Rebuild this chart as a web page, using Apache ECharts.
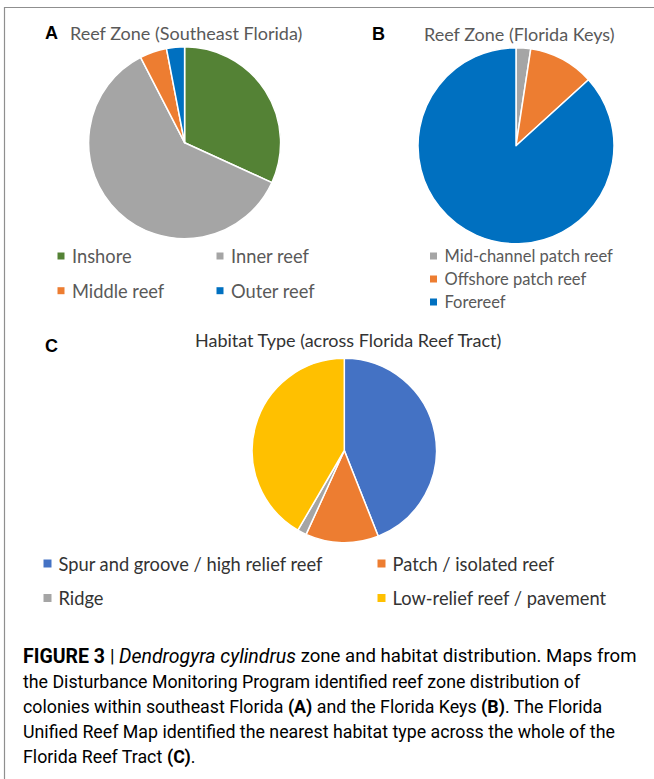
<!DOCTYPE html>
<html>
<head>
<meta charset="utf-8">
<title>Figure 3</title>
<script src="https://cdn.jsdelivr.net/npm/echarts@6/dist/echarts.min.js"></script>
<style>
  html, body {
    margin: 0;
    padding: 0;
    background: #fff;
  }
  #main {
    width: 654px;
    height: 779px;
  }
</style>
</head>
<body>
<div id="main"></div>
<script>
// A southeast Florida reef zone
const zoneSeNames = ['Inshore', 'Inner reef', 'Middle reef', 'Outer reef']
const zoneSeValues = [21, 40, 3, 2]
const zoneSeColors = ['#548235', '#a5a5a5', '#ed7d31', '#0070c0']

// B Florida Keys reef zone
const zoneKeysNames = ['Mid-channel patch reef', 'Offshore patch reef', 'Forereef']
const zoneKeysValues = [2, 9, 72]
const zoneKeysColors = ['#a5a5a5', '#ed7d31', '#0070c0']

// C habitat type (%)
const habitatNames = ['Spur and groove / high relief reef', 'Patch / isolated reef', 'Ridge', 'Low-relief reef / pavement']
const habitatValues = [44, 12.8, 1.6, 41.6]
const habitatColors = ['#4472c4', '#ed7d31', '#a5a5a5', '#ffc000']

const chartFont = 'Lato, "Noto Sans", sans-serif'
const capFont = 'Roboto, "Liberation Sans", sans-serif'

function toData(names, values, colors) {
  return names.map((name, i) => ({
    name: name,
    value: values[i],
    itemStyle: { color: colors[i] }
  }))
}

function pie(center, radius, data) {
  return {
    type: 'pie',
    center: center,
    radius: radius,
    startAngle: 90,
    clockwise: true,
    label: { show: false },
    labelLine: { show: false },
    emphasis: { disabled: true },
    itemStyle: { borderColor: '#fff', borderWidth: 1.5 },
    data: data
  }
}

// square marker centered in a wider box, so the text sits a bit further away
function legend(left, top, names, gap, size, fontSize, color) {
  return {
    orient: 'vertical',
    left: left,
    top: top,
    padding: 0,
    itemGap: gap,
    itemWidth: 12,
    itemHeight: size,
    icon: 'path://M0,0L10,0L10,10L0,10Z',
    itemStyle: { borderWidth: 0 },
    selectedMode: false,
    data: names,
    textStyle: {
      fontFamily: chartFont,
      fontSize: fontSize,
      lineHeight: 20,
      color: color
    }
  }
}

function label(x, y, text, font, color) {
  return {
    type: 'text',
    x: x,
    y: y,
    silent: true,
    style: { text: text, font: font, fill: color, verticalAlign: 'middle' }
  }
}

const capRich = {
  f: { fontFamily: capFont, fontWeight: 'bold', fontSize: 19.5, color: '#222' },
  b: { fontFamily: capFont, fontWeight: 'bold', fontSize: 17.8, color: '#222' },
  i: { fontFamily: capFont, fontStyle: 'italic', fontSize: 19.5, color: '#333' },
  m: { fontFamily: capFont, fontSize: 18.6, color: '#333' },
  n: { fontFamily: capFont, fontSize: 17.8, color: '#333' }
}

const captionLines = [
  '{f|FIGURE 3 }{m|| }{i|Dendrogyra cylindrus}{m| zone and habitat distribution. Maps from}',
  '{n|the Disturbance Monitoring Program identified reef zone distribution of}',
  '{n|colonies within southeast Florida }{b|(A)}{n| and the Florida Keys }{b|(B)}{n|. The Florida}',
  '{n|Unified Reef Map identified the nearest habitat type across the whole of the}',
  '{n|Florida Reef Tract }{b|(C)}{n|.}'
]

const letterFont = 'bold 18px "Liberation Sans", Arial, sans-serif'
const titleFont = '18px ' + chartFont

const graphics = [
  {
    type: 'polyline',
    silent: true,
    shape: { points: [[4.5, 779], [4.5, 7.5], [654, 7.5]] },
    style: { stroke: '#8f8f8f', lineWidth: 1.2, fill: null }
  },
  label(45, 33, 'A', letterFont, '#000'),
  label(70, 33, 'Reef Zone (Southeast Florida)', titleFont, '#595959'),
  label(372, 34, 'B', letterFont, '#000'),
  label(424, 34, 'Reef Zone (Florida Keys)', titleFont, '#595959'),
  label(45, 346, 'C', letterFont, '#000'),
  label(195, 339.5, 'Habitat Type (across Florida Reef Tract)', titleFont, '#333')
]

captionLines.forEach((line, i) => {
  graphics.push({
    type: 'text',
    x: 23,
    y: 656 + i * 25,
    silent: true,
    style: { text: line, rich: capRich, verticalAlign: 'middle' }
  })
})

const myChart = echarts.init(document.getElementById('main'), null, { renderer: 'svg' })

myChart.setOption({
  animation: false,
  backgroundColor: '#fff',
  legend: [
    legend(57.5, 246, ['Inshore', 'Middle reef'], 14.7, 7, 18.3, '#595959'),
    legend(216.5, 246, ['Inner reef', 'Outer reef'], 14.7, 7, 18.3, '#595959'),
    legend(430, 246, zoneKeysNames, 3, 7, 16.5, '#595959'),
    legend(43.5, 553.5, [habitatNames[0], habitatNames[2]], 14.5, 8, 18.3, '#333'),
    legend(377.5, 553.5, [habitatNames[1], habitatNames[3]], 14.5, 8, 18.3, '#333')
  ],
  series: [
    pie([184.6, 142.7], 96, toData(zoneSeNames, zoneSeValues, zoneSeColors)),
    pie([516, 145.7], 98, toData(zoneKeysNames, zoneKeysValues, zoneKeysColors)),
    pie([344.3, 450.5], 92.2, toData(habitatNames, habitatValues, habitatColors))
  ],
  graphic: graphics
})
</script>
</body>
</html>
